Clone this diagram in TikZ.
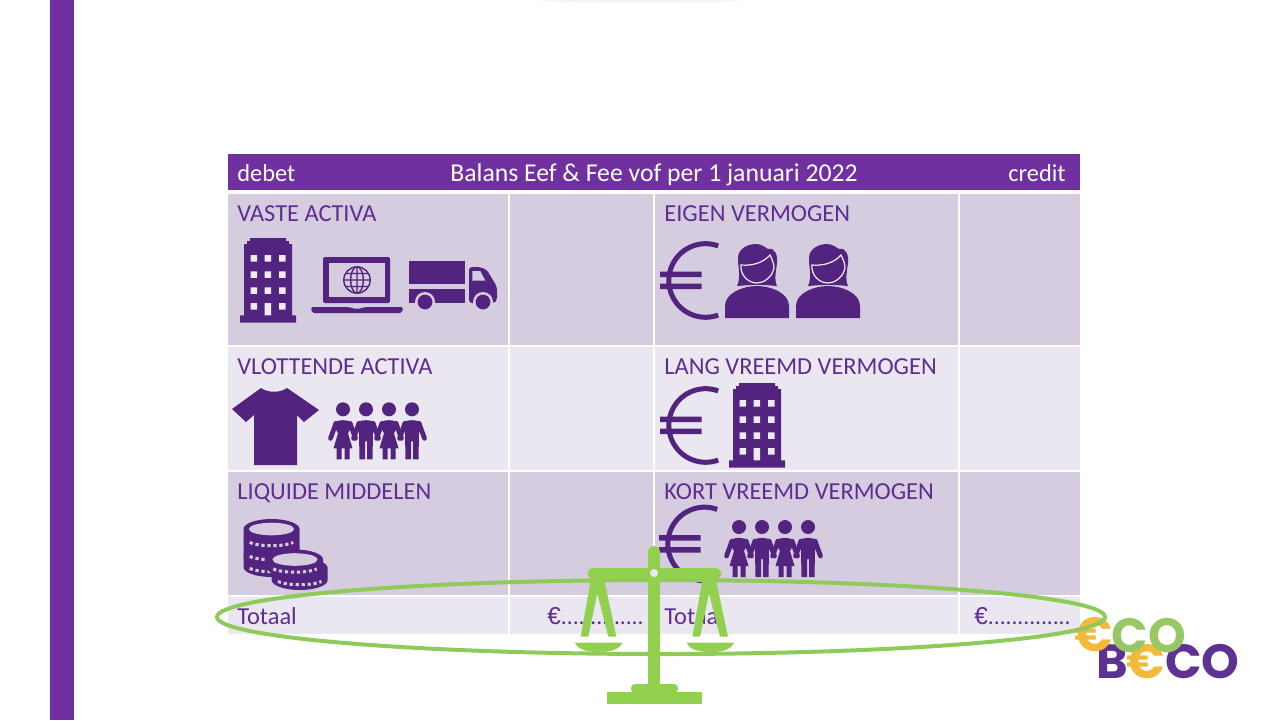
\documentclass[tikz,border=0pt]{standalone}
\usepackage{fontspec}
\setmainfont{Carlito}
\newfontfamily\logofont{Poppins}
\newfontfamily\amountfont{Liberation Sans}
\usetikzlibrary{calc}
\usetikzlibrary{positioning}

\definecolor{barpurple}{HTML}{7030A0}
\definecolor{iconpurple}{HTML}{52247F}
\definecolor{textpurple}{HTML}{5F2C92}
\definecolor{celldark}{HTML}{D5CCE0}
\definecolor{celllight}{HTML}{EAE7F0}
\definecolor{windowlight}{HTML}{EFEBF4}
\definecolor{scalegreen}{HTML}{92D14F}
\definecolor{ringgreen}{HTML}{8FCB5A}
\definecolor{logogreen}{HTML}{97C864}
\definecolor{logoyellow}{HTML}{F2B93B}
\definecolor{logopurple}{HTML}{5E3293}

\newcommand{\amounttext}{{\amountfont €}{\fontsize{11.7}{14}\selectfont ..............}}

\tikzset{
  cell/.style={inner sep=0pt,outer sep=0pt,anchor=north west},
  dark/.style={cell,fill=celldark},
  light/.style={cell,fill=celllight},
  cola/.style={minimum width=140pt},
  colb/.style={minimum width=71.5pt},
  colc/.style={minimum width=151.5pt},
  cold/.style={minimum width=60pt},
  rowa/.style={minimum height=75.5pt},
  rowb/.style={minimum height=61.5pt},
  rowc/.style={minimum height=18.5pt},
  nextto/.style={right=1pt of #1.north east,anchor=north west},
  under/.style={below=1pt of #1.south west,anchor=north west},
  lab/.style={inner sep=0pt,anchor=base west,text=textpurple,font=\fontsize{12.2}{14}\selectfont},
  headlab/.style={inner sep=0pt,text=white,font=\fontsize{12.2}{14}\selectfont},
  logolab/.style={inner sep=0pt,anchor=base,font=\logofont\bfseries\fontsize{24}{28}\selectfont},
  pics/buildingicon/.style={code={
    \fill[iconpurple] (0,84.7) -- (0,77.3) -- (4,77.3) -- (4,6) -- (7,6) -- (7,3) -- (10,3) -- (10,0) -- (46,0) -- (46,3) -- (49,3) -- (49,6) -- (52,6) -- (52,77.3) -- (56,77.3) -- (56,84.7) -- cycle;
    \fill[windowlight] (10.7,17) rectangle +(6.5,6.5) (24.7,17) rectangle +(6.5,6.5) (39,17) rectangle +(6.5,6.5);
    \fill[windowlight] (10.7,33.3) rectangle +(6.5,6.5) (24.7,33.3) rectangle +(6.5,6.5) (39,33.3) rectangle +(6.5,6.5);
    \fill[windowlight] (10.7,49.3) rectangle +(6.5,6.5) (24.7,49.3) rectangle +(6.5,6.5) (39,49.3) rectangle +(6.5,6.5);
    \fill[windowlight] (10.7,65) rectangle +(6.5,6.5) (24.7,65) rectangle (31.2,77.3) (39,65) rectangle +(6.5,6.5);
  }},
  pics/euroicon/.style={code={
    \draw[iconpurple,line width=2.5pt] (12.2,-34.6) arc[start angle=70,end angle=290,x radius=18.4pt,y radius=18.4pt];
    \fill[iconpurple] (-46,-9) rectangle (-4.3,-3.3) (-46,3) rectangle (-4.3,8.7);
  }},
  pics/womanicon/.style={code={
    \fill[iconpurple] (25,-33) -- (12,-32) .. controls (16,-40) and (13,-50) .. (13,-60) .. controls (13,-70) and (24,-74) .. (31,-74) .. controls (36,-74) and (40,-71) .. (43,-69) .. controls (50,-71) and (53,-62) .. (52,-55) .. controls (51,-47) and (49,-38) .. (52,-32) -- (40,-33) -- cycle;
    \draw[windowlight,line width=0.6pt] (16,-53) .. controls (27,-52) and (38,-55) .. (45,-63) .. controls (49,-55) and (50,-50) .. (48,-47) .. controls (46,-40) and (38,-35) .. (32,-35) .. controls (24,-35) and (15,-42) .. (16,-53) -- cycle;
    \fill[#1] (26,-33) rectangle (39,-31.5);
    \fill[iconpurple] (0,0) -- (0,-12) .. controls (0,-25) and (18,-32) .. (32,-32) .. controls (46,-32) and (64,-25) .. (64,-12) -- (64,0) -- cycle;
  }},
  pics/girlicon/.style={code={
    \fill[iconpurple] (0,0) circle (3.5pt);
    \fill[iconpurple] (-10,15) .. controls (-7,9.5) and (7,9.5) .. (10,15) -- (5,24) -- (9.5,39) -- (6.5,39) -- (6.5,50) -- (1.5,50) -- (1.5,39) -- (-1.5,39) -- (-1.5,50) -- (-6.5,50) -- (-6.5,39) -- (-9.5,39) -- (-5,24) -- cycle;
    \draw[iconpurple,line width=2.4pt,line cap=round] (-7,14) -- (-12.5,29) (7,14) -- (12.5,29);
  }},
  pics/boyicon/.style={code={
    \fill[iconpurple] (0,0) circle (3.5pt);
    \fill[iconpurple] (-10,15) .. controls (-7,9.5) and (7,9.5) .. (10,15) -- (7,24) -- (6.5,50) -- (1,50) -- (1,32) -- (-1,32) -- (-1,50) -- (-6.5,50) -- (-7,24) -- cycle;
    \draw[iconpurple,line width=2.4pt,line cap=round] (-7,14) -- (-12.5,29) (7,14) -- (12.5,29);
  }},
  pics/familyicon/.style={code={
    \pic at (0,0) {girlicon};
    \pic at (23,0) {boyicon};
    \pic at (46,0) {girlicon};
    \pic at (69,0) {boyicon};
  }},
  pics/coinicon/.style={code={
    \fill[iconpurple] (-28,0) arc[start angle=180,end angle=0,x radius=14pt,y radius=5pt] -- (28,#1) arc[start angle=0,end angle=-180,x radius=14pt,y radius=5pt] -- cycle;
    \fill[celldark] (0,0) ellipse[x radius=11.3pt,y radius=3.15pt];
    \draw[celldark,line width=1.5pt,dash pattern=on 1.6pt off 1.4pt] (-21.75,#1+1.4) arc[start angle=-155,end angle=-25,x radius=12pt,y radius=2.85pt];
  }},
  pics/armicon/.style={code={
    \fill[scalegreen] (0,0) -- (-10,56.7) -- (-2.4,56.7) -- (6.6,13.3) -- (17.6,56.7) -- (25.6,56.7) -- (13.6,0) -- cycle;
    \fill[scalegreen] (-15.7,62.7) .. controls (-12.7,70) and (-2.7,72) .. (7.9,72) .. controls (19.3,72) and (28.3,70) .. (31.6,62.7) -- cycle;
  }}
}

\begin{document}
\begin{tikzpicture}[x=0.5pt,y=-0.5pt]
\useasboundingbox (0,0) rectangle (1280,720);

\fill[barpurple] (50,0) rectangle (74,720);
\fill[black!4] (640,0) ellipse[x radius=50pt,y radius=1.5pt];

% header
\node[cell,fill=barpurple,minimum width=426pt,minimum height=18pt] (head) at (228,154) {};
\node[headlab,anchor=base west] (debet) at ($(head.north west)+(9,27)$) {debet};
\node[headlab,anchor=base,font=\fontsize{12.85}{14}\selectfont] (title) at ($(head.north west)+(426,27)$) {Balans Eef \& Fee vof per 1 januari 2022};
\node[headlab,anchor=base east] (credit) at ($(head.north east)+(-14,27)$) {credit};

% table
\node[dark,cola,rowa] (va) at (228,194) {};
\node[dark,colb,rowa,nextto=va] (vab) {};
\node[dark,colc,rowa,nextto=vab] (ev) {};
\node[dark,cold,rowa,nextto=ev] (evb) {};
\node[light,cola,rowb,under=va] (vl) {};
\node[light,colb,rowb,nextto=vl] (vlb) {};
\node[light,colc,rowb,nextto=vlb] (lv) {};
\node[light,cold,rowb,nextto=lv] (lvb) {};
\node[dark,cola,rowb,under=vl] (lm) {};
\node[dark,colb,rowb,nextto=lm] (lmb) {};
\node[dark,colc,rowb,nextto=lmb] (kv) {};
\node[dark,cold,rowb,nextto=kv] (kvb) {};
\node[light,cola,rowc,under=lm] (ta) {};
\node[light,colb,rowc,nextto=ta] (tab) {};
\node[light,colc,rowc,nextto=tab] (tv) {};
\node[light,cold,rowc,nextto=tv] (tvb) {};

\node[lab] (valab) at ($(va.north west)+(9,27)$) {VASTE ACTIVA};
\node[lab] (evlab) at ($(ev.north west)+(9,27)$) {EIGEN VERMOGEN};
\node[lab] (vllab) at ($(vl.north west)+(9,27)$) {VLOTTENDE ACTIVA};
\node[lab] (lvlab) at ($(lv.north west)+(9,27)$) {LANG VREEMD VERMOGEN};
\node[lab] (lmlab) at ($(lm.north west)+(9,27)$) {LIQUIDE MIDDELEN};
\node[lab] (kvlab) at ($(kv.north west)+(9,27)$) {KORT VREEMD VERMOGEN};
\node[lab] (talab) at ($(ta.north west)+(9,27)$) {Totaal};
\node[lab] (tablab) at ($(tab.north west)+(37,27)$) {\amounttext};
\node[lab] (tvlab) at ($(tv.north west)+(9,27)$) {Totaal};
\node[lab] (tvblab) at ($(tvb.north west)+(14,27)$) {\amounttext};

% icons
\pic at (240,238) {buildingicon};
\pic at (729,383) {buildingicon};
\pic at (706,280.5) {euroicon};
\pic at (706,425.5) {euroicon};
\pic at (705,544) {euroicon};
\pic at (725,318) {womanicon=celldark};
\pic at (796,318) {womanicon=celldark};
\pic at (343,409.3) {familyicon};
\pic at (739,527) {familyicon};

% laptop
\fill[iconpurple,rounded corners=1pt] (323,303) -- (323,257) -- (390,257) -- (390,303) -- cycle;
\fill[celldark] (329,263) rectangle (385,297);
\fill[iconpurple,rounded corners=1pt] (311,307) -- (350,307) -- (352,308.5) -- (362,308.5) -- (364,307) -- (403,307) -- (402,313) -- (312,313) -- cycle;
\draw[iconpurple,line width=0.7pt] (357,280) circle (6.6pt) (357,266.8) -- (357,293.2) (343.8,280) -- (370.2,280) (345,273.5) -- (369,273.5) (345,286.5) -- (369,286.5);
\draw[iconpurple,line width=0.7pt] (357,280) ellipse[x radius=3.2pt,y radius=6.6pt];

% truck
\fill[iconpurple] (409,261) rectangle (465,284);
\fill[iconpurple] (409,289) rectangle (465,303);
\fill[iconpurple,rounded corners=1.5pt] (469,303) -- (469,267) -- (480,267) -- (487,270) -- (497,287) -- (497,300) -- (494,303) -- cycle;
\fill[celldark] (472.3,271) -- (480.3,271) -- (485.3,280.7) -- (472.3,280.7) -- cycle;
\fill[celldark] (425,302) circle (5pt) (483,302) circle (5pt);
\fill[iconpurple] (425,302) circle (3.7pt) (483,302) circle (3.7pt);

% shirt
\fill[iconpurple] (261,388) .. controls (268,393) and (280,393) .. (287,388) -- (319,410) -- (304,422) -- (297,415) -- (297,465) -- (254,465) -- (254,415) -- (246,422) -- (232,409) -- cycle;

% coins
\pic at (271.5,555) {coinicon=12};
\pic at (271.5,543) {coinicon=12};
\pic at (271.5,529) {coinicon=12};
\pic at (299.7,568) {coinicon=12};
\pic at (295,559.5) {coinicon=8};

% logo
\node[logolab,text=logopurple] (logob) at (1112.5,678) {B};
\node[logolab,text=logopurple] (logoco) at (1202.5,678) {CO};
\node[logolab,text=logoyellow] (logoeb) at (1146,678) {€};
\node[logolab,text=logoyellow] (logoe) at (1094,651) {€};
\node[logolab,text=logogreen] (logoc) at (1149,652) {CO};

% ring and balance
\draw[ringgreen,line width=2pt] (661,617) ellipse[x radius=222pt,y radius=18.5pt];

\pic at (590.7,580) {armicon};
\pic at (702.4,580) {armicon};
\draw[scalegreen,line width=6pt,line cap=round] (654,552) -- (654,690);
\draw[scalegreen,line width=5.5pt,line cap=round] (593,573.5) -- (716,573.5);
\fill[scalegreen] (607,692) rectangle (702,704);
\fill[scalegreen,rounded corners=2pt] (631,693) -- (631,684) -- (678,684) -- (678,693) -- cycle;
\fill[celllight] (654,573) circle (2pt);
\end{tikzpicture}
\end{document}
